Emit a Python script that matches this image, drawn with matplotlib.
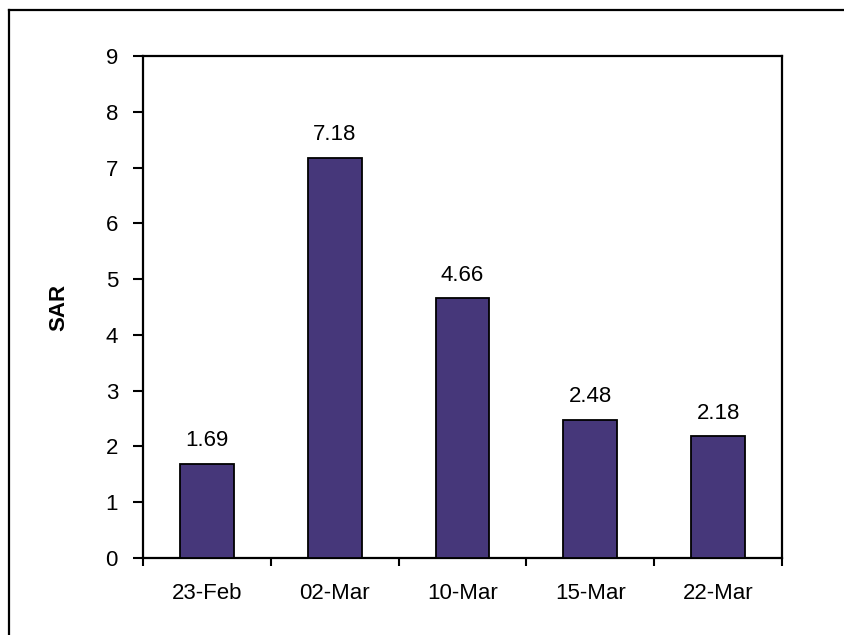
import matplotlib
matplotlib.use("Agg")
import matplotlib.pyplot as plt
from matplotlib.lines import Line2D

plt.rcParams['font.family'] = ['Liberation Sans', 'DejaVu Sans']

dates = ["23-Feb", "02-Mar", "10-Mar", "15-Mar", "22-Mar"]
sar = [1.69, 7.18, 4.66, 2.48, 2.18]
y_ticks = list(range(0, 10))

FS = 16

fig = plt.figure(figsize=(8.44, 6.35), dpi=100)
ax = fig.add_axes([143/844, 1 - 558/635, (782 - 143)/844, (558 - 56)/635])

x = list(range(len(dates)))
ax.bar(x, sar, width=0.42, color='#46377A', edgecolor='black', linewidth=1.3, zorder=3)

for xi, v in zip(x, sar):
    ax.annotate(f"{v:.2f}", (xi, v), xytext=(0, 9), textcoords='offset points',
                ha='center', va='bottom', fontsize=FS)

ax.set_xlim(-0.5, len(dates) - 0.5)
ax.set_ylim(0, 9)
ax.set_yticks(y_ticks)
ax.set_xticks(x)
ax.set_xticklabels(dates, fontsize=FS)
ax.set_xticks([i + 0.5 for i in range(-1, len(dates))], minor=True)
ax.tick_params(axis='x', which='major', length=0, pad=18)
ax.tick_params(axis='x', which='minor', length=6, width=1.5, direction='out')
ax.tick_params(axis='y', labelsize=FS, length=7, width=1.5, direction='out', pad=11)
ax.set_ylabel("SAR", fontsize=FS, fontweight='bold', labelpad=26)

for s in ax.spines.values():
    s.set_linewidth(1.6)

# outer frame around the figure (top and left edges visible)
fig.add_artist(Line2D([9/844, 1.0], [1 - 10/635, 1 - 10/635], transform=fig.transFigure,
                      color='black', linewidth=1.6))
fig.add_artist(Line2D([9/844, 9/844], [0.0, 1 - 10/635], transform=fig.transFigure,
                      color='black', linewidth=1.6))

fig.savefig("out.png", dpi=100)
